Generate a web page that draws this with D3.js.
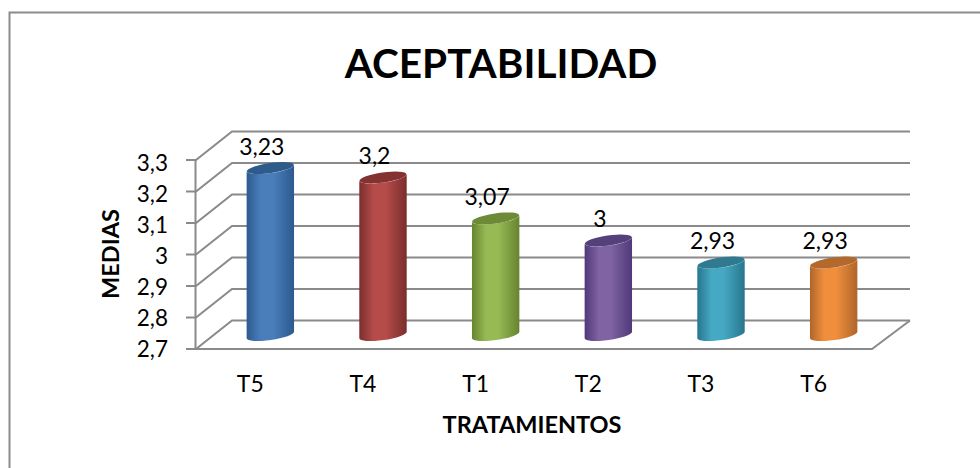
<!DOCTYPE html>
<html><head><meta charset="utf-8">
<script src="https://cdn.jsdelivr.net/npm/d3@7"></script>
<style>html,body{margin:0;padding:0;background:#fff}svg{display:block}text{font-family:Lato,"Open Sans",sans-serif;fill:#000}</style>
</head><body><svg id="c" width="980" height="468"></svg>
<script>
const categories = ["T5","T4","T1","T2","T3","T6"];
const values = [3.23,3.2,3.07,3,2.93,2.93];
const valueLabels = ["3,23","3,2","3,07","3","2,93","2,93"];
const yTicks = [2.7,2.8,2.9,3,3.1,3.2,3.3];
const yTickLabels = ["2,7","2,8","2,9","3","3,1","3,2","3,3"];
const edgeColors = ["#2c5a8e","#7a2e2c","#66842f","#50397a","#27768e","#b0652a"];
const midColors = ["#4a7ebb","#b54c4a","#98ba55","#7f63a2","#46a9c4","#ef8f3e"];
const capColors = ["#2f5a8c","#843231","#6d8a36","#54407a","#2f7a90","#b3692c"];

const svg = d3.select("#c");
const W = 980, H = 468;
const depthX = 36, depthY = -28.5, midX = 18, midY = -14;
const x = d3.scaleBand().domain(categories).range([196,872]);
const y = d3.scaleLinear().domain([2.7,3.3]).range([349,160]);
const yLabel = d3.scaleLinear().domain([2.7,3.3]).range([357,171]);

svg.append("path").attr("d",`M9.5,${H} V12.5 H${W}`).attr("fill","none").attr("stroke","#8c8c8c").attr("stroke-width",2);

const grid = svg.append("g").attr("fill","none").attr("stroke","#8a8a8a").attr("stroke-width",2);
yTicks.forEach(t=>{
  const yy = y(t);
  grid.append("path").attr("d",`M186,${yy} H196 L${196+depthX},${yy+depthY} H${872+depthX+2}`);
});
grid.append("path").attr("d",`M195.5,${y(3.3)} V${y(2.7)} H872 L${872+depthX+2},${y(2.7)+depthY}`);

const defs = svg.append("defs");
categories.forEach((c,i)=>{
  const g = defs.append("linearGradient").attr("id","g"+i).attr("x1",0).attr("x2",1).attr("y1",0).attr("y2",0);
  [[0,edgeColors[i]],[.3,midColors[i]],[.55,midColors[i]],[1,edgeColors[i]]].forEach(s=>g.append("stop").attr("offset",s[0]).attr("stop-color",s[1]));
});

const rx = 23.7, ry = 5, rot = -8, tilt = rx*Math.sin(8*Math.PI/180);
const bars = svg.append("g");
categories.forEach((c,i)=>{
  const cx = x(c)+x.bandwidth()/2+midX;
  const top = y(values[i])+midY, bot = y(2.7)+midY;
  bars.append("path").attr("fill",`url(#g${i})`)
    .attr("d",`M${cx-rx},${top+tilt} L${cx-rx},${bot+tilt} A${rx},${ry} ${rot} 0 0 ${cx+rx},${bot-tilt} L${cx+rx},${top-tilt} A${rx},${ry} ${rot} 0 1 ${cx-rx},${top+tilt} Z`);
  bars.append("ellipse").attr("cx",cx).attr("cy",top).attr("rx",rx).attr("ry",ry)
    .attr("transform",`rotate(${rot} ${cx} ${top})`).attr("fill",capColors[i]);
});

categories.forEach((c,i)=>{
  svg.append("text").attr("x",x(c)+x.bandwidth()/2+midX-8.5).attr("y",y(values[i])+midY-13.5)
    .attr("text-anchor","middle").attr("font-size",23).text(valueLabels[i]);
  svg.append("text").attr("x",x(c)+x.bandwidth()/2-2).attr("y",392)
    .attr("text-anchor","middle").attr("font-size",23).text(c);
});
yTicks.forEach((t,i)=>{
  svg.append("text").attr("x",168).attr("y",yLabel(t)).attr("text-anchor","end").attr("font-size",22.5).text(yTickLabels[i]);
});

svg.append("text").attr("x",501).attr("y",78).attr("text-anchor","middle").attr("font-size",40.5).attr("font-weight",700).text("ACEPTABILIDAD");
svg.append("text").attr("x",532).attr("y",433).attr("text-anchor","middle").attr("font-size",23.5).attr("font-weight",700).text("TRATAMIENTOS");
svg.append("text").attr("transform","translate(119,254) rotate(-90)").attr("text-anchor","middle").attr("font-size",23.5).attr("font-weight",700).text("MEDIAS");
</script></body></html>
